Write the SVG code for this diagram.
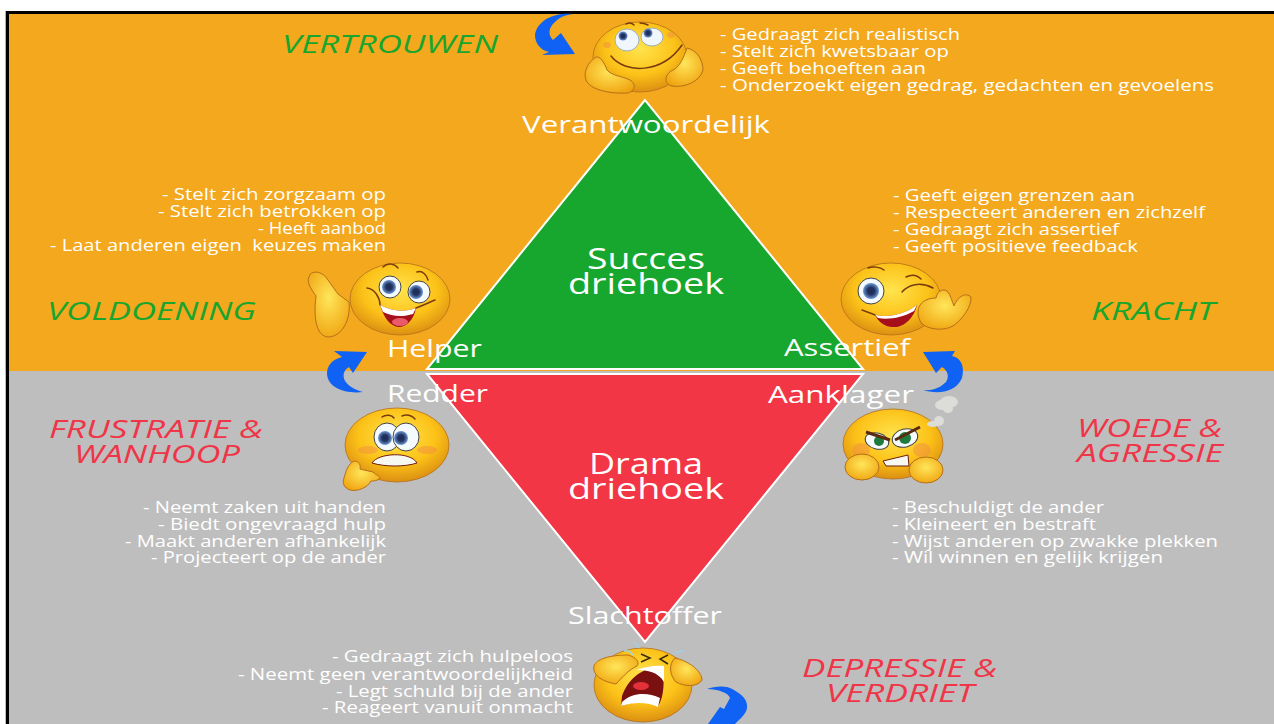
<svg xmlns="http://www.w3.org/2000/svg" width="1274" height="724" viewBox="0 0 1274 724">
<defs>
<radialGradient id="face" cx="50%" cy="38%" r="62%"><stop offset="0" stop-color="#ffe44e"/><stop offset="0.6" stop-color="#fcc218"/><stop offset="1" stop-color="#dc8f12"/></radialGradient>
<radialGradient id="hand" cx="50%" cy="40%" r="65%"><stop offset="0" stop-color="#ffe65a"/><stop offset="1" stop-color="#f0a410"/></radialGradient>
<radialGradient id="iris" cx="50%" cy="50%" r="50%"><stop offset="0" stop-color="#1c2a55"/><stop offset="0.45" stop-color="#23325f"/><stop offset="1" stop-color="#6d9ad8"/></radialGradient>
</defs>
<style>
text{font-family:"Open Sans","DejaVu Sans",sans-serif}
.t{fill:#fff;font-size:17px}
.v{fill:#fff;font-size:23px}
.h{fill:#fff;font-size:30px}
.g{font-style:italic;fill:#19a52e;font-size:26px;font-weight:500}
.e{font-style:italic;fill:#ef3547;font-size:26px;font-weight:500}
.f{fill:url(#face);stroke:#b4701a;stroke-width:.8}
.p{fill:url(#hand);stroke:#b4701a;stroke-width:1}
.w{fill:#f4fafd;stroke:#444;stroke-width:1}
.i{fill:url(#iris)}
.l{fill:none;stroke:#7a3b10;stroke-width:1.500;stroke-linecap:round}
.b{fill:#f0884a;opacity:.45}
.a{fill:#0f62f4}
</style>
<rect width="1274" height="724" fill="#fff"/>
<rect x="5" y="11" width="1269" height="360" fill="#f4a81d"/>
<rect x="5" y="371" width="1269" height="353" fill="#bebebe"/>
<path d="M7.500 724V12.500H1274" fill="none" stroke="#000" stroke-width="3"/>

<g id="succes-triangle"><polygon points="645,100 427,369 863,369" fill="#17a72f" stroke="#fff" stroke-width="2"/><text class="h" x="587" y="269" textLength="118" lengthAdjust="spacingAndGlyphs">Succes</text><text class="h" x="568" y="294" textLength="156" lengthAdjust="spacingAndGlyphs">driehoek</text></g>
<g id="drama-triangle"><polygon points="427,374 863,374 645,642" fill="#f23646" stroke="#fff" stroke-width="2"/><text class="h" x="589" y="474" textLength="114" lengthAdjust="spacingAndGlyphs">Drama</text><text class="h" x="568" y="499" textLength="156" lengthAdjust="spacingAndGlyphs">driehoek</text></g>

<g id="label-verantwoordelijk"><text class="v" x="522" y="133" textLength="248" lengthAdjust="spacingAndGlyphs">Verantwoordelijk</text></g>
<g id="label-helper"><text class="v" x="387" y="357" textLength="95" lengthAdjust="spacingAndGlyphs">Helper</text></g>
<g id="label-assertief"><text class="v" x="784" y="356" textLength="126" lengthAdjust="spacingAndGlyphs">Assertief</text></g>
<g id="label-redder"><text class="v" x="387" y="402" textLength="101" lengthAdjust="spacingAndGlyphs">Redder</text></g>
<g id="label-aanklager"><text class="v" x="768" y="403" textLength="146" lengthAdjust="spacingAndGlyphs">Aanklager</text></g>
<g id="label-slachtoffer"><text class="v" x="568" y="624" textLength="154" lengthAdjust="spacingAndGlyphs">Slachtoffer</text></g>

<g id="state-vertrouwen"><text class="g" x="282" y="53" textLength="216" lengthAdjust="spacingAndGlyphs">VERTROUWEN</text></g>
<g id="state-voldoening"><text class="g" x="47" y="320" textLength="209" lengthAdjust="spacingAndGlyphs">VOLDOENING</text></g>
<g id="state-kracht"><text class="g" x="1091" y="320" textLength="124" lengthAdjust="spacingAndGlyphs">KRACHT</text></g>
<g id="state-frustratie"><text class="e" x="49" y="438" textLength="214" lengthAdjust="spacingAndGlyphs">FRUSTRATIE &amp;</text><text class="e" x="74" y="463" textLength="166" lengthAdjust="spacingAndGlyphs">WANHOOP</text></g>
<g id="state-woede"><text class="e" x="1077" y="437" textLength="145" lengthAdjust="spacingAndGlyphs">WOEDE &amp;</text><text class="e" x="1077" y="462" textLength="146" lengthAdjust="spacingAndGlyphs">AGRESSIE</text></g>
<g id="state-depressie"><text class="e" x="802" y="677" textLength="195" lengthAdjust="spacingAndGlyphs">DEPRESSIE &amp;</text><text class="e" x="826" y="702" textLength="148" lengthAdjust="spacingAndGlyphs">VERDRIET</text></g>

<g id="list-verantwoordelijk">
<text class="t" x="720" y="40" textLength="240" lengthAdjust="spacingAndGlyphs">- Gedraagt zich realistisch</text>
<text class="t" x="720" y="57" textLength="229" lengthAdjust="spacingAndGlyphs">- Stelt zich kwetsbaar op</text>
<text class="t" x="720" y="74" textLength="206" lengthAdjust="spacingAndGlyphs">- Geeft behoeften aan</text>
<text class="t" x="720" y="91" textLength="494" lengthAdjust="spacingAndGlyphs">- Onderzoekt eigen gedrag, gedachten en gevoelens</text></g>
<g id="list-helper">
<text class="t" x="162" y="200" textLength="224" lengthAdjust="spacingAndGlyphs">- Stelt zich zorgzaam op</text>
<text class="t" x="158" y="217" textLength="228" lengthAdjust="spacingAndGlyphs">- Stelt zich betrokken op</text>
<text class="t" x="258" y="234" textLength="128" lengthAdjust="spacingAndGlyphs">- Heeft aanbod</text>
<text class="t" x="50" y="251" textLength="336" lengthAdjust="spacingAndGlyphs" style="white-space:pre">- Laat anderen eigen  keuzes maken</text></g>
<g id="list-assertief">
<text class="t" x="893" y="201" textLength="242" lengthAdjust="spacingAndGlyphs">- Geeft eigen grenzen aan</text>
<text class="t" x="893" y="218" textLength="312" lengthAdjust="spacingAndGlyphs">- Respecteert anderen en zichzelf</text>
<text class="t" x="893" y="235" textLength="226" lengthAdjust="spacingAndGlyphs">- Gedraagt zich assertief</text>
<text class="t" x="893" y="252" textLength="245" lengthAdjust="spacingAndGlyphs">- Geeft positieve feedback</text></g>
<g id="list-redder">
<text class="t" x="143" y="513" textLength="243" lengthAdjust="spacingAndGlyphs">- Neemt zaken uit handen</text>
<text class="t" x="158" y="530" textLength="228" lengthAdjust="spacingAndGlyphs">- Biedt ongevraagd hulp</text>
<text class="t" x="125" y="547" textLength="261" lengthAdjust="spacingAndGlyphs">- Maakt anderen afhankelijk</text>
<text class="t" x="151" y="563" textLength="235" lengthAdjust="spacingAndGlyphs">- Projecteert op de ander</text></g>
<g id="list-aanklager">
<text class="t" x="892" y="513" textLength="212" lengthAdjust="spacingAndGlyphs">- Beschuldigt de ander</text>
<text class="t" x="892" y="530" textLength="204" lengthAdjust="spacingAndGlyphs">- Kleineert en bestraft</text>
<text class="t" x="892" y="547" textLength="326" lengthAdjust="spacingAndGlyphs">- Wijst anderen op zwakke plekken</text>
<text class="t" x="892" y="563" textLength="271" lengthAdjust="spacingAndGlyphs">- Wil winnen en gelijk krijgen</text></g>
<g id="list-slachtoffer">
<text class="t" x="332" y="662" textLength="241" lengthAdjust="spacingAndGlyphs">- Gedraagt zich hulpeloos</text>
<text class="t" x="238" y="680" textLength="335" lengthAdjust="spacingAndGlyphs">- Neemt geen verantwoordelijkheid</text>
<text class="t" x="336" y="697" textLength="237" lengthAdjust="spacingAndGlyphs">- Legt schuld bij de ander</text>
<text class="t" x="322" y="713" textLength="251" lengthAdjust="spacingAndGlyphs">- Reageert vanuit onmacht</text></g>

<g id="connectors">
<path class="a" d="M573 14C555 12 537 20 535 35C535 43 540 50 549 52L542 55L575 54L561 33L553 40C548 35 548 28 555 22C560 17 565 15 573 14Z"/>
<path class="a" d="M363 392C345 394 328 388 327 374C327 366 331 360 342 357L334 351L367 352L353 373L349 367C344 370 342 375 345 381C349 387 356 390 363 392Z"/>
<path class="a" d="M923 390C935 394 955 394 962 378C965 366 961 358 952 356L955 351L923 352L936 373L942 367C947 370 950 376 946 382C940 388 932 391 923 390Z"/>
<path class="a" d="M707 689C715 686 727 685 734 690C743 695 748 701 747 708C746 714 741 718 735 724H708L720 707L724 709L730 698C729 693 718 689 707 689Z"/>
</g>

<g id="emoji-top">
<ellipse class="f" cx="640" cy="57" rx="47" ry="35"/>
<ellipse class="b" cx="607" cy="45" rx="4" ry="3"/><ellipse class="b" cx="671" cy="35" rx="4" ry="3"/>
<path class="p" d="M596 57C588 62 583 72 586 80C590 90 610 94 628 93C636 90 636 84 630 80C622 76 612 76 607 70C604 62 600 56 596 57Z"/>
<path class="p" d="M687 48C697 50 703 60 703 70C700 82 684 88 672 86C664 84 664 76 671 71C680 68 684 56 687 48Z"/>
<ellipse cx="627" cy="40" rx="12" ry="11" fill="#f0f7fc" stroke="#8aa0b8" stroke-width=".8"/><ellipse cx="652" cy="37" rx="11" ry="9" fill="#f0f7fc" stroke="#8aa0b8" stroke-width=".8"/>
<circle class="i" cx="623" cy="36" r="4.500"/><circle class="i" cx="648" cy="33" r="4.500"/>
<path class="l" d="M611 56C625 74 662 74 682 45M626 24C630 22 632 23 634 25M640 23C644 23 646 24 648 25"/>
</g>
<g id="emoji-helper">
<path class="p" d="M309 277C310 270 322 270 328 280L338 294L349 302C351 320 342 336 329 337C317 337 313 320 316 296C312 290 306 283 309 277Z"/>
<ellipse class="f" cx="400" cy="299" rx="50" ry="36"/>
<circle class="w" cx="390" cy="287" r="11"/><circle class="w" cx="419" cy="292" r="11"/>
<circle class="i" cx="389" cy="287" r="7"/><circle class="i" cx="416" cy="292" r="7"/>
<path d="M380 305C393 312 405 312 416 308C414 320 406 327 399 327C390 327 383 316 380 305Z" fill="#a6101a"/>
<path d="M380 305C393 312 405 312 416 308L413 314C403 317 393 317 383 312Z" fill="#fff"/>
<ellipse cx="400" cy="322" rx="8" ry="4" fill="#e95b6a"/>
<path class="l" d="M367 288C375 289 380 298 380 305M416 308C424 305 430 302 435 300M383 267C388 262 395 264 398 268M417 272C423 270 427 276 428 280"/>
</g>
<g id="emoji-assertief">
<ellipse class="f" cx="891" cy="299" rx="50" ry="36"/>
<circle class="w" cx="871" cy="291" r="13"/><circle class="i" cx="871" cy="291" r="8"/>
<path d="M875 315C890 318 905 314 917 305C914 318 904 328 893 327C884 327 878 321 875 315Z" fill="#a6101a"/>
<path d="M875 315C890 318 905 314 917 305L914 311C902 318 888 320 878 318Z" fill="#fff"/>
<path class="l" d="M902 292C908 285 920 281 933 288M868 268C873 266 880 267 884 270M906 277C912 274 917 275 921 279M862 310C868 312 872 314 875 315"/>
<path class="p" d="M918 312C918 303 926 298 936 298C937 292 942 288 947 291C951 295 952 302 954 306C958 296 966 292 971 297C972 306 962 320 953 326C944 331 930 330 922 324C919 320 918 316 918 312Z"/>
</g>
<g id="emoji-redder">
<ellipse class="f" cx="397" cy="445" rx="52" ry="37"/>
<ellipse class="b" cx="368" cy="450" rx="10" ry="4"/><ellipse class="b" cx="427" cy="450" rx="10" ry="4"/>
<ellipse class="w" cx="387" cy="437" rx="13" ry="14"/><ellipse class="w" cx="406" cy="437" rx="13" ry="14"/>
<circle class="i" cx="385" cy="438" r="7"/><circle class="i" cx="401" cy="438" r="7"/>
<path d="M372 463C378 453 410 451 417 463C405 467 385 467 372 463Z" fill="#f8f8f2" stroke="#6c1d0c"/>
<path class="l" d="M382 417C386 414 392 415 394 418M402 416C407 414 412 416 415 419"/>
<path class="p" d="M344 478C346 471 348 464 354 461C359 461 361 465 360 469L373 472C376 475 380 476 380 478C378 481 373 481 371 481C368 487 358 492 350 490C344 488 342 483 344 478Z"/>
</g>
<g id="emoji-aanklager">
<ellipse class="f" cx="893" cy="444" rx="50" ry="35"/>
<ellipse class="b" cx="861" cy="450" rx="9" ry="7"/><ellipse class="b" cx="922" cy="450" rx="9" ry="7"/>
<ellipse class="w" cx="877" cy="441" rx="12" ry="8" transform="rotate(15 877 441)"/><ellipse class="w" cx="905" cy="438" rx="13" ry="9" transform="rotate(-15 905 438)"/>
<circle cx="879" cy="441" r="5" fill="#1d7c3d"/><circle cx="905" cy="438" r="6" fill="#1d7c3d"/>
<path d="M866 432L890 440M895 440L920 427" stroke="#5b2a0d" stroke-width="3" fill="none"/>
<path d="M883 461L908 455L909 466L886 466Z" fill="#f8f8f2" stroke="#6c1d0c"/>
<ellipse class="p" cx="862" cy="467" rx="17" ry="13"/><ellipse class="p" cx="926" cy="470" rx="17" ry="13"/>
<g fill="#dcdcd8"><ellipse cx="949" cy="402" rx="9" ry="6"/><ellipse cx="942" cy="405" rx="7" ry="5"/><ellipse cx="948" cy="409" rx="5" ry="4"/><ellipse cx="939" cy="421" rx="5" ry="5"/><ellipse cx="933" cy="424" rx="6" ry="3"/></g>
</g>
<g id="emoji-slachtoffer">
<ellipse class="f" cx="643" cy="685" rx="49" ry="37"/>
<path d="M622 696C628 680 640 668 662 666C665 680 664 698 658 706C646 700 632 702 621 706Z" fill="#7a1010"/>
<path d="M636 670C645 667 655 665 664 666L664 682C658 672 648 670 636 670ZM622 702C632 692 648 692 660 698L658 707C648 702 634 702 621 706Z" fill="#fff"/>
<ellipse cx="641" cy="686" rx="8" ry="4" fill="#e3303a"/>
<path class="p" d="M594 666C596 659 610 655 628 655C636 657 640 662 637 666C628 670 622 678 616 684C604 682 592 676 594 666Z"/>
<path class="p" d="M675 658C686 660 702 670 702 680C698 687 685 687 676 682C670 676 668 664 675 658Z"/>
<path d="M641 654L650 658L641 662M668 655L660 659L668 664" fill="none" stroke="#3a2a10" stroke-width="1.500"/>
<path d="M624 651C628 650 631 652 633 655M674 654C678 651 681 651 684 651M633 642C636 644 638 646 639 648" fill="none" stroke="#9fd0e8" stroke-width="1.500"/>
</g>
</svg>
